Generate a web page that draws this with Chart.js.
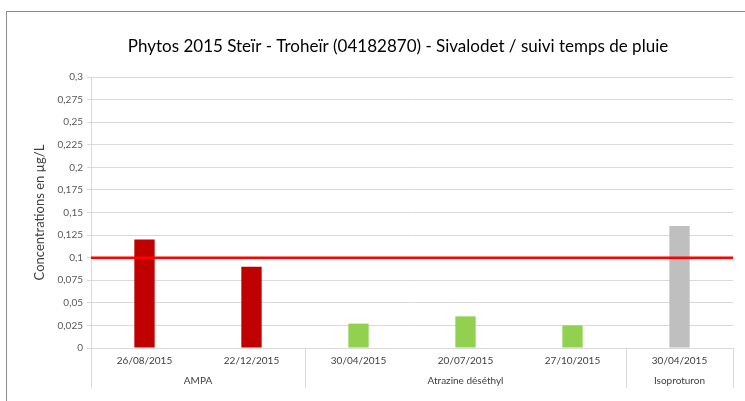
<!DOCTYPE html>
<html>
<head>
<meta charset="utf-8">
<script src="https://cdn.jsdelivr.net/npm/chart.js@4"></script>
<style>
  html, body { margin: 0; padding: 0; background: #ffffff; overflow: hidden; }
  #wrap { position: relative; width: 745px; height: 401px; }
  #frame { position: absolute; left: 6px; top: 11px; width: 800px; height: 500px;
           border-left: 1px solid #8c8c8c; border-top: 1px solid #8c8c8c; }
  canvas { position: absolute; left: 0; top: 0; }
</style>
</head>
<body>
<div id="wrap">
  <div id="frame"></div>
  <canvas id="c" width="745" height="401"></canvas>
</div>
<script>
const title = "Phytos 2015 Steïr - Troheïr (04182870) - Sivalodet / suivi temps de pluie";
const yTitle = "Concentrations en µg/L";
const dates = ["26/08/2015", "22/12/2015", "30/04/2015", "20/07/2015", "27/10/2015", "30/04/2015"];
const groups = ["AMPA", "AMPA", "Atrazine déséthyl", "Atrazine déséthyl", "Atrazine déséthyl", "Isoproturon"];
const values = [0.12, 0.09, 0.027, 0.035, 0.025, 0.135];
const threshold = 0.1;
const groupColors = { "AMPA": "#c00000", "Atrazine déséthyl": "#92d050", "Isoproturon": "#bfbfbf" };

const FONT = "Lato, 'Open Sans', sans-serif";

const groupPlugin = {
  id: 'groupPlugin',
  afterDatasetsDraw(chart) {
    const ctx = chart.ctx;
    const y = chart.scales.y;
    const area = chart.chartArea;
    const ty = y.getPixelForValue(threshold);
    ctx.save();
    ctx.strokeStyle = "#ff0000";
    ctx.lineWidth = 2.5;
    ctx.beginPath();
    ctx.moveTo(area.left, ty);
    ctx.lineTo(area.right, ty);
    ctx.stroke();
    ctx.restore();
  },
  afterDraw(chart) {
    const ctx = chart.ctx;
    const x = chart.scales.x;
    const area = chart.chartArea;
    const n = dates.length;
    const half = (x.getPixelForValue(1) - x.getPixelForValue(0)) / 2;
    const sepBottom = area.bottom + 40;
    ctx.save();
    // chart title
    ctx.fillStyle = "#000000";
    ctx.font = "17px " + FONT;
    ctx.textAlign = "center";
    ctx.textBaseline = "middle";
    ctx.fillText(title, 398, 47);

    ctx.strokeStyle = "#d9d9d9";
    ctx.lineWidth = 1;
    let start = 0;
    const spans = [];
    for (let i = 1; i <= n; i++) {
      if (i === n || groups[i] !== groups[start]) {
        spans.push([start, i - 1]);
        start = i;
      }
    }
    const edges = new Set();
    spans.forEach(([a, b]) => {
      edges.add(Math.round(x.getPixelForValue(a) - half) + 0.5);
      edges.add(Math.round(x.getPixelForValue(b) + half) + 0.5);
    });
    edges.forEach(px => {
      ctx.beginPath();
      ctx.moveTo(px, area.bottom);
      ctx.lineTo(px, sepBottom);
      ctx.stroke();
    });
    ctx.fillStyle = "#404040";
    ctx.font = "10px " + FONT;
    spans.forEach(([a, b]) => {
      const cx = (x.getPixelForValue(a) + x.getPixelForValue(b)) / 2;
      ctx.fillText(groups[a], cx, area.bottom + 33);
    });
    ctx.restore();
  }
};

new Chart(document.getElementById('c'), {
  type: 'bar',
  data: {
    labels: dates,
    datasets: [{
      data: values,
      backgroundColor: groups.map(g => groupColors[g]),
      borderWidth: 0,
      barPercentage: 0.19,
      categoryPercentage: 1.0
    }]
  },
  options: {
    responsive: false,
    animation: false,
    devicePixelRatio: 1,
    layout: { padding: { left: 0, right: 12, top: 77, bottom: 0 } },
    plugins: {
      legend: { display: false },
      tooltip: { enabled: false },
      title: { display: false }
    },
    scales: {
      x: {
        grid: { display: false, drawTicks: false },
        border: { display: true, color: "#d9d9d9" },
        ticks: { color: "#404040", font: { family: FONT, size: 10 }, padding: 7, maxRotation: 0, autoSkip: false },
        afterFit(scale) { scale.height = 53; }
      },
      y: {
        min: 0,
        max: 0.3,
        ticks: {
          stepSize: 0.025,
          color: "#595959",
          font: { family: FONT, size: 10 },
          padding: 4,
          callback: v => String(Math.round(v * 1000) / 1000).replace('.', ',')
        },
        grid: { color: "#d9d9d9", tickLength: 4, drawTicks: true },
        border: { display: true, color: "#d9d9d9" },
        title: {
          display: true,
          text: yTitle,
          color: "#404040",
          font: { family: FONT, size: 13 },
          padding: { top: 32, bottom: 0 }
        },
        afterFit(scale) { scale.width = 91; }
      }
    }
  },
  plugins: [groupPlugin]
});
</script>
</body>
</html>
